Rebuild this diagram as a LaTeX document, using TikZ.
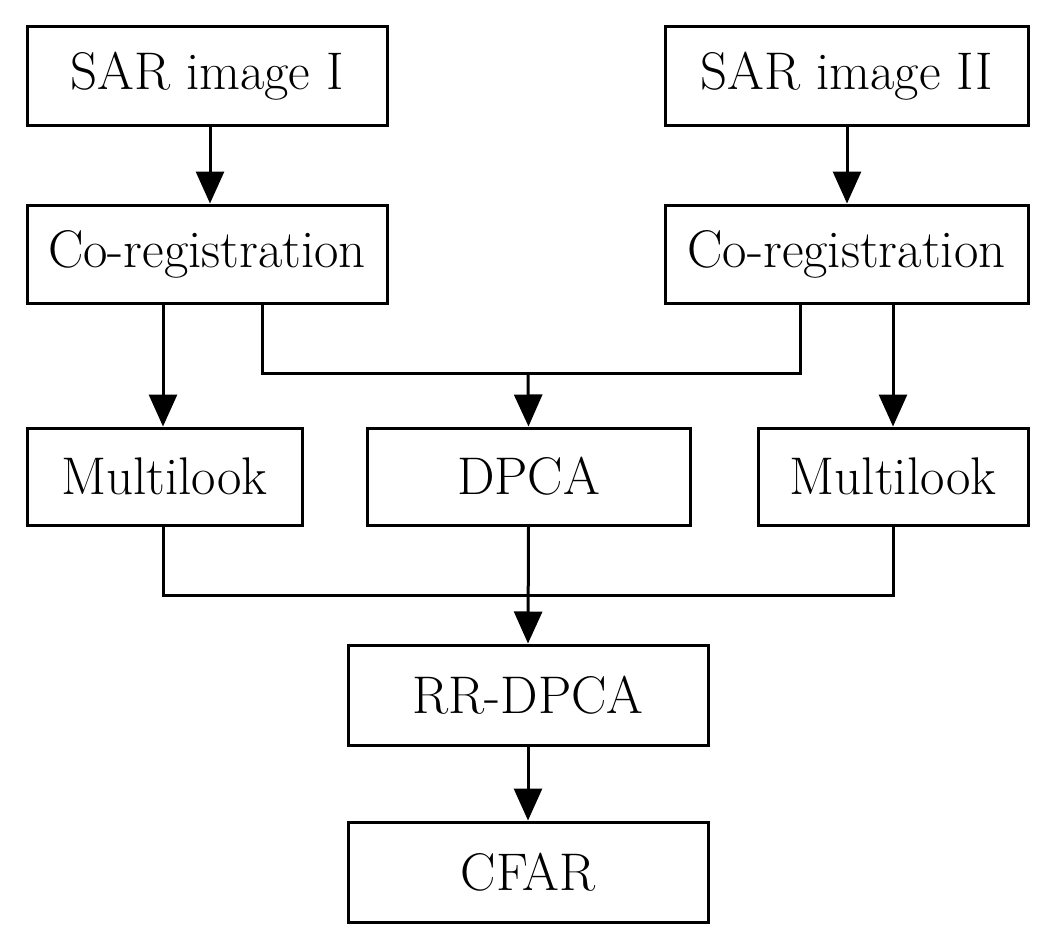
\documentclass[tikz,border=0pt]{standalone}
\usetikzlibrary{arrows.meta}
\begin{document}
\begin{tikzpicture}[x=1pt,y=-1pt,
  box/.style={draw,line width=3pt,inner sep=0pt,font=\fontsize{53}{58}\selectfont},
  ln/.style={line width=3pt},
  ar/.style={ln,-{Triangle[width=28pt,length=32pt]}}]
\useasboundingbox (0,0) rectangle (1053,950);
\node[box,minimum width=360pt,minimum height=98pt] (s1) at (207,76) {SAR image I};
\node[box,minimum width=363pt,minimum height=98pt] (s2) at (846.5,76) {SAR image II};
\node[box,minimum width=360pt,minimum height=98pt] (c1) at (207,254) {Co-registration};
\node[box,minimum width=363pt,minimum height=98pt] (c2) at (846.5,254) {Co-registration};
\node[box,minimum width=275pt,minimum height=97pt] (m1) at (164.5,476.5) {Multilook};
\node[box,minimum width=323pt,minimum height=97pt] (d) at (528.5,476.5) {DPCA};
\node[box,minimum width=270pt,minimum height=97pt] (m2) at (893,476.5) {Multilook};
\node[box,minimum width=360pt,minimum height=100pt] (rr) at (528,695) {RR-DPCA};
\node[box,minimum width=360pt,minimum height=100pt] (cf) at (528,872) {CFAR};
\coordinate (j1) at (528,373);
\coordinate (j2) at (528,595);
\draw[ar] (s1.south -| 210,0) -- (c1.north -| 210,0);
\draw[ar] (s2.south -| 847,0) -- (c2.north -| 847,0);
\draw[ar] (c1.south -| 163,0) -- (m1.north -| 163,0);
\draw[ar] (c2.south -| 893,0) -- (m2.north -| 893,0);
\draw[ln] (c1.south -| 262,0) |- (j1) -| (c2.south -| 800,0);
\draw[ar] (j1) -- (d.north);
\draw[ln] (m1.south -| 163,0) |- (j2) -| (m2.south -| 893,0);
\draw[ar] (d.south) -- (rr.north);
\draw[ar] (rr.south) -- (cf.north);
\end{tikzpicture}
\end{document}
